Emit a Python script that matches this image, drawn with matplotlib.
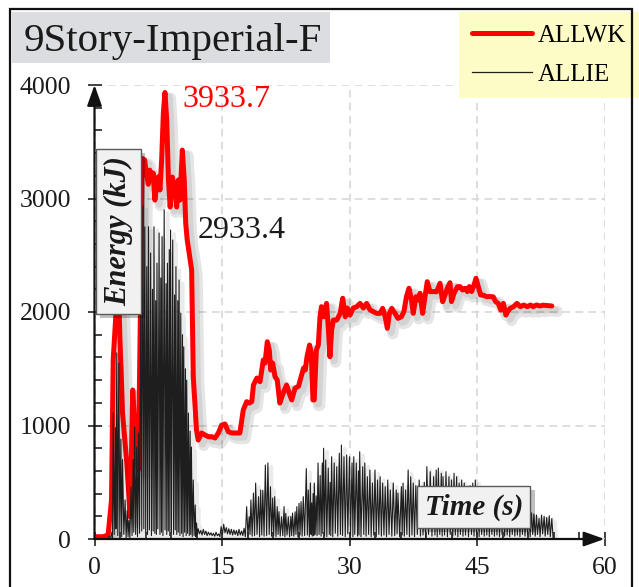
import matplotlib
matplotlib.use('Agg')
import matplotlib.pyplot as plt
from matplotlib.lines import Line2D
from matplotlib.patches import Rectangle
import matplotlib.patheffects as pe
from matplotlib.ticker import MultipleLocator

plt.rcParams['font.family'] = ['Liberation Serif', 'DejaVu Serif']

# ---------------- data ----------------
TITLE = '9Story-Imperial-F'
SERIES = ['ALLWK', 'ALLIE']
X_LABEL = 'Time (s)'
Y_LABEL = 'Energy (kJ)'
X_TICKS = [0, 15, 30, 45, 60]
Y_TICKS = [0, 1000, 2000, 3000, 4000]

# ALLWK (time s, energy kJ)
ALLWK = [
    (0, 20), (1.0, 20), (1.6, 35), (2.0, 344), (2.2, 1577), (2.5, 1958), (2.8, 2250),
    (3.0, 1750), (3.3, 1110), (3.8, 670), (4.2, 194), (4.5, 1313), (4.75, 960),
    (5.15, 608), (5.4, 1990), (5.6, 3354), (5.9, 3340), (6.1, 3225), (6.33, 3125),
    (6.5, 3250), (6.72, 3163), (6.9, 3225), (7.1, 2986), (7.3, 3100), (7.5, 3190),
    (7.7, 3075), (7.9, 3339), (8.1, 3753), (8.29, 3933.7), (8.5, 3690), (8.7, 3163),
    (8.9, 2925), (9.15, 3189), (9.47, 3075), (9.67, 2925), (9.86, 3163), (10.06, 2986),
    (10.33, 3427), (10.56, 3163), (10.73, 2784), (10.9, 2640), (11.43, 2370),
    (11.62, 1430), (12.0, 960), (12.2, 872), (12.6, 934), (13.0, 916), (13.4, 901),
    (13.8, 901), (14.18, 890), (14.57, 934), (14.96, 1004), (15.35, 1013), (15.74, 945),
    (16.14, 934), (16.73, 934), (17.1, 934), (17.5, 1136), (17.9, 1210), (18.2, 1198),
    (18.5, 1210), (18.7, 1357), (19.1, 1418), (19.47, 1386), (19.86, 1577), (20.06, 1550),
    (20.33, 1738), (20.56, 1665), (20.73, 1489), (20.96, 1550), (21.24, 1430),
    (21.5, 1401), (21.8, 1198), (22.2, 1286), (22.6, 1357), (22.9, 1286), (23.2, 1225),
    (23.6, 1330), (24.0, 1345), (24.2, 1401), (24.6, 1507), (24.8, 1489), (25.0, 1606),
    (25.3, 1709), (25.5, 1639), (25.7, 1225), (25.85, 1225), (26.1, 1665), (26.33, 1709),
    (26.53, 1958), (26.7, 2047), (27.0, 1958), (27.3, 2076), (27.5, 1870), (27.7, 1606),
    (27.9, 1841), (28.1, 1929), (28.5, 1929), (28.9, 1988), (29.2, 2121), (29.5, 1958),
    (29.75, 2035), (30.06, 1973), (30.45, 2035), (30.85, 2047), (31.24, 2076),
    (31.63, 2035), (32.02, 2076), (32.4, 2020), (32.8, 2003), (33.2, 1988), (33.6, 1988),
    (33.9, 2032), (34.2, 1958), (34.45, 1856), (34.7, 1988), (34.97, 2032), (35.35, 1988),
    (35.7, 1944), (36.1, 1958), (36.4, 2003), (36.7, 2135), (37.0, 2209), (37.3, 2106),
    (37.5, 1988), (37.82, 2135), (38.1, 2106), (38.3, 2165), (38.6, 1988), (38.88, 2135),
    (39.15, 2267), (39.47, 2179), (39.86, 2180), (40.25, 2178), (40.65, 2253),
    (40.96, 2091), (41.24, 2150), (41.5, 2209), (41.82, 2258), (42.0, 2092), (42.3, 2165),
    (42.7, 2223), (43.0, 2224), (43.3, 2194), (43.6, 2209), (43.86, 2180), (44.1, 2224),
    (44.37, 2180), (44.65, 2238), (44.88, 2297), (45.15, 2224), (45.43, 2150),
    (45.73, 2148), (46.13, 2135), (46.5, 2136), (46.9, 2134), (47.2, 2091), (47.5, 2076),
    (47.8, 2017), (48.1, 2076), (48.4, 1973), (48.6, 2003), (48.9, 2032), (49.3, 2047),
    (49.7, 2076), (50.1, 2047), (50.5, 2062), (50.9, 2047), (51.3, 2062), (51.6, 2047),
    (52.0, 2062), (52.4, 2053), (52.8, 2060), (53.2, 2057), (53.8, 2053),
]

# ALLIE (time s, energy kJ)
ALLIE = [
    (0, 0), (1.5, 0), (1.75, 25), (1.9, 5), (2.05, 60), (2.12, 10), (2.2, 1110), (2.32, 40),
    (2.45, 980), (2.52, 90), (2.62, 1640), (2.74, 30), (2.86, 1550), (2.98, 60), (3.1, 880),
    (3.2, 20), (3.3, 700), (3.45, 40), (3.6, 344), (3.72, 10), (3.85, 250), (3.95, 20),
    (4.05, 167), (4.16, 10), (4.3, 458), (4.42, 30), (4.55, 700), (4.62, 60), (4.72, 987),
    (4.84, 40), (4.96, 810), (5.06, 20), (5.18, 933), (5.3, 50), (5.45, 2194), (5.56, 70),
    (5.7, 2933.4), (5.8, 90), (5.92, 2750), (6.02, 60), (6.15, 2400), (6.24, 40),
    (6.35, 2751), (6.46, 80), (6.6, 2520), (6.7, 30), (6.82, 2200), (6.9, 70), (7.0, 2751),
    (7.1, 50), (7.2, 2100), (7.28, 40), (7.35, 2430), (7.45, 90), (7.6, 2696), (7.7, 40),
    (7.8, 2300), (7.88, 60), (7.95, 2663), (8.05, 30), (8.2, 2900), (8.3, 80), (8.42, 2250),
    (8.5, 40), (8.58, 2430), (8.68, 70), (8.8, 2550), (8.86, 30), (8.95, 2722), (9.05, 60),
    (9.2, 2634), (9.3, 40), (9.42, 2150), (9.5, 80), (9.58, 2399), (9.68, 40), (9.8, 2100),
    (9.86, 60), (9.95, 2282), (10.05, 30), (10.15, 1990), (10.25, 50), (10.35, 1800),
    (10.42, 20), (10.5, 1693), (10.6, 60), (10.7, 1500), (10.78, 30), (10.85, 1400),
    (10.95, 50), (11.05, 1110), (11.15, 30), (11.25, 950), (11.32, 40), (11.4, 810),
    (11.5, 20), (11.62, 520), (11.72, 30), (11.85, 300), (11.92, 20), (12.0, 141),
    (12.1, 40), (12.2, 90), (12.35, 45), (12.5, 75), (12.65, 35), (12.8, 85), (12.95, 40),
    (13.1, 70), (13.25, 30), (13.4, 60), (13.55, 35), (13.7, 55), (13.85, 30), (14.0, 50),
    (14.15, 25), (14.3, 60), (14.45, 30), (14.6, 45), (14.75, 20), (14.9, 110), (15.05, 40),
    (15.2, 130), (15.35, 55), (15.5, 100), (15.65, 45), (15.8, 90), (15.95, 40), (16.1, 85),
    (16.25, 35), (16.4, 80), (16.55, 40), (16.7, 75), (16.85, 30), (17.0, 85), (17.15, 35),
    (17.3, 70), (17.45, 30), (17.6, 95), (17.75, 20), (17.9, 285), (18.05, 30), (18.2, 196),
    (18.3, 40), (18.4, 344), (18.55, 25), (18.7, 405), (18.83, 30), (18.96, 493),
    (19.12, 40), (19.3, 373), (19.42, 20), (19.55, 432), (19.68, 35), (19.8, 430),
    (19.95, 25), (20.1, 652), (20.25, 30), (20.4, 670), (20.55, 40), (20.7, 461),
    (20.83, 25), (20.96, 361), (21.08, 30), (21.2, 373), (21.35, 20), (21.5, 285),
    (21.6, 40), (21.7, 241), (21.85, 25), (22.0, 196), (22.15, 30), (22.3, 285), (22.4, 20),
    (22.5, 226), (22.65, 35), (22.8, 196), (22.95, 20), (23.1, 200), (23.2, 30), (23.3, 229),
    (23.45, 25), (23.6, 240), (23.7, 40), (23.8, 285), (23.93, 20), (24.06, 314),
    (24.18, 35), (24.3, 329), (24.43, 25), (24.56, 373), (24.72, 30), (24.92, 620),
    (25.04, 35), (25.15, 432), (25.28, 20), (25.4, 493), (25.48, 40), (25.55, 317),
    (25.62, 25), (25.72, 400), (25.79, 30), (25.86, 493), (25.96, 40), (26.08, 380),
    (26.18, 30), (26.3, 670), (26.42, 40), (26.55, 560), (26.66, 25), (26.8, 670),
    (26.86, 50), (26.95, 800), (27.07, 30), (27.2, 696), (27.33, 20), (27.5, 625),
    (27.62, 40), (27.72, 500), (27.8, 30), (27.9, 725), (28.03, 20), (28.2, 670),
    (28.33, 50), (28.5, 637), (28.62, 25), (28.8, 755), (28.93, 40), (29.05, 828),
    (29.18, 30), (29.35, 725), (29.5, 20), (29.67, 740), (29.8, 45), (30.0, 725),
    (30.12, 30), (30.3, 670), (30.4, 20), (30.5, 725), (30.62, 40), (30.8, 670),
    (30.95, 25), (31.05, 600), (31.12, 35), (31.2, 769), (31.35, 20), (31.55, 637),
    (31.68, 40), (31.8, 670), (31.95, 25), (32.1, 549), (32.25, 40), (32.4, 608),
    (32.55, 20), (32.7, 493), (32.85, 35), (33.0, 608), (33.15, 20), (33.3, 520),
    (33.45, 40), (33.6, 549), (33.75, 25), (33.9, 493), (34.05, 35), (34.2, 461),
    (34.35, 20), (34.5, 520), (34.65, 40), (34.8, 432), (34.98, 25), (35.15, 493),
    (35.32, 30), (35.5, 432), (35.6, 45), (35.7, 405), (35.9, 20), (36.1, 461), (36.2, 35),
    (36.3, 493), (36.45, 25), (36.6, 432), (36.75, 40), (36.9, 608), (37.05, 20),
    (37.2, 549), (37.35, 35), (37.5, 493), (37.65, 20), (37.8, 470), (37.98, 40),
    (38.2, 520), (38.35, 25), (38.5, 460), (38.65, 35), (38.8, 500), (38.95, 20),
    (39.1, 637), (39.3, 40), (39.5, 593), (39.7, 25), (39.9, 549), (40.05, 35), (40.2, 608),
    (40.32, 20), (40.45, 625), (40.62, 40), (40.8, 579), (40.9, 25), (41.0, 549),
    (41.18, 35), (41.35, 593), (41.52, 20), (41.7, 549), (41.85, 40), (42.0, 520),
    (42.15, 25), (42.3, 579), (42.45, 35), (42.6, 549), (42.75, 20), (42.9, 493),
    (43.05, 40), (43.2, 520), (43.35, 25), (43.5, 493), (43.65, 35), (43.8, 461),
    (44.0, 20), (44.2, 470), (44.35, 40), (44.5, 493), (44.65, 25), (44.8, 520),
    (44.95, 35), (45.1, 430), (45.25, 20), (45.4, 400), (45.55, 40), (45.7, 420),
    (45.85, 25), (46.0, 380), (46.15, 35), (46.3, 400), (46.45, 20), (46.6, 360),
    (46.75, 40), (46.9, 380), (47.05, 25), (47.2, 340), (47.35, 35), (47.5, 360),
    (47.65, 20), (47.8, 320), (47.95, 40), (48.1, 340), (48.25, 25), (48.4, 300),
    (48.55, 35), (48.7, 320), (48.85, 20), (49.0, 290), (49.15, 40), (49.3, 300),
    (49.45, 25), (49.6, 270), (49.75, 35), (49.9, 280), (50.05, 20), (50.2, 260),
    (50.35, 40), (50.5, 270), (50.65, 25), (50.8, 240), (50.95, 35), (51.1, 250),
    (51.25, 20), (51.4, 230), (51.55, 40), (51.7, 220), (51.85, 25), (52.0, 211),
    (52.12, 40), (52.3, 182), (52.42, 20), (52.6, 211), (52.72, 45), (52.9, 200),
    (53.02, 25), (53.2, 190), (53.32, 40), (53.5, 205), (53.62, 20), (53.8, 180),
    (53.95, 10),
]

# ---------------- figure ----------------
W, H = 639, 587
fig = plt.figure(figsize=(W / 100, H / 100), dpi=100)
fig.patch.set_facecolor('white')


def fx(px):
    return px / W


def fy(py):
    return 1 - py / H


ax = fig.add_axes([fx(94.5), fy(539), 510 / W, 454 / H])
ax.set_xlim(X_TICKS[0], X_TICKS[-1])
ax.set_ylim(Y_TICKS[0], Y_TICKS[-1])
ax.set_xticks(X_TICKS)
ax.set_yticks(Y_TICKS)
ax.xaxis.set_minor_locator(MultipleLocator(3))
ax.yaxis.set_minor_locator(MultipleLocator(200))
ax.grid(True, which='major', linestyle=(0, (5, 3.5)), color='#d4d4d4', linewidth=1.1)
ax.set_axisbelow(True)
for s in ax.spines.values():
    s.set_visible(False)
ax.tick_params(which='major', direction='inout', length=9.5, width=1.1, labelsize=18.5,
               color='#111111')
ax.tick_params(axis='y', which='major', pad=12)
ax.tick_params(axis='x', which='major', pad=8)
ax.tick_params(which='minor', direction='in', length=4.8, width=1.1, color='#111111')
for lab in ax.get_xticklabels() + ax.get_yticklabels():
    lab.set_color('#1a1a1a')

# axis lines with arrowheads
arrow = dict(arrowstyle='-|>,head_length=0.9,head_width=0.32', mutation_scale=14,
             lw=1.6, color='#111111', shrinkA=0, shrinkB=0)
ax.annotate('', xy=(0, 1.0), xytext=(0, 0), xycoords='axes fraction',
            textcoords='axes fraction', arrowprops=arrow, annotation_clip=False, zorder=6)
ax.annotate('', xy=(1.0, 0), xytext=(0, 0), xycoords='axes fraction',
            textcoords='axes fraction', arrowprops=arrow, annotation_clip=False, zorder=6)

wk_t, wk_e = zip(*ALLWK)
ie_t, ie_e = zip(*ALLIE)

ax.plot(wk_t, wk_e, color='#ff0000', lw=3.6, solid_joinstyle='round',
        solid_capstyle='round', zorder=3,
        path_effects=[pe.SimpleLineShadow(offset=(4, -4), shadow_color='black',
                                          alpha=0.10, linewidth=8), 
                      pe.SimpleLineShadow(offset=(3, -3), shadow_color='black',
                                          alpha=0.08, linewidth=5),
                      pe.Normal()])
ax.plot(ie_t, ie_e, color='#1e1e1e', lw=0.8, zorder=4,
        path_effects=[pe.SimpleLineShadow(offset=(2.5, -2.5), shadow_color='black',
                                          alpha=0.08, linewidth=2.5), pe.Normal()])

# peak annotations
ax.text(10.4, 3870, f'{max(wk_e):.1f}', color='#ff0000', fontsize=23,
        va='center', ha='left', zorder=7)
ax.text(12.1, 2720, f'{max(ie_e):.1f}', color='#1a1a1a', fontsize=23,
        va='center', ha='left', zorder=7)

# axis labels in boxes
box = dict(boxstyle='square,pad=0.25', fc='#f1f1f1', ec='#5a5a5a', lw=1.0)
ty = ax.text(0.047, 0.678, Y_LABEL, transform=ax.transAxes, rotation=90,
             fontsize=22, fontweight='bold', fontstyle='italic', color='#1a1a1a',
             ha='center', va='center', bbox=box, zorder=10)
tx = ax.text(0.744, 0.0705, X_LABEL, transform=ax.transAxes,
             fontsize=21, fontweight='bold', fontstyle='italic', color='#1a1a1a',
             ha='center', va='center', bbox=dict(box), zorder=10)
for t in (ty, tx):
    t.get_bbox_patch().set_path_effects(
        [pe.withSimplePatchShadow(offset=(3, -3), shadow_rgbFace='black', alpha=0.25)])

# title box
fig.add_artist(Rectangle((fx(12), fy(63)), (330 - 12) / W, 51 / H,
                         transform=fig.transFigure, fc='#dcdde0', ec='none', zorder=1))
fig.text(fx(24), fy(51.5), TITLE, fontsize=29.5, color='#1a1a1a',
         ha='left', va='baseline', zorder=2)

# legend
handles = [Line2D([], [], color='#ff0000', lw=3.6, solid_capstyle='round'),
           Line2D([], [], color='#1e1e1e', lw=0.9)]
leg = fig.legend(handles, SERIES, loc='upper left', bbox_to_anchor=(fx(459), fy(12)),
                 bbox_transform=fig.transFigure, frameon=True, fancybox=False,
                 facecolor='#fdfbc6', edgecolor='none', framealpha=1, fontsize=18,
                 handlelength=2.4, handletextpad=0.25, borderpad=0.5,
                 labelspacing=0.65, borderaxespad=0)
leg.set_zorder(5)

# outer border
fig.add_artist(Rectangle((fx(10), -0.05), fx(632) - fx(10), fy(9) + 0.05,
                         transform=fig.transFigure, fill=False, ec='#111111',
                         lw=1.6, zorder=20))

fig.savefig('out.png', dpi=100)
